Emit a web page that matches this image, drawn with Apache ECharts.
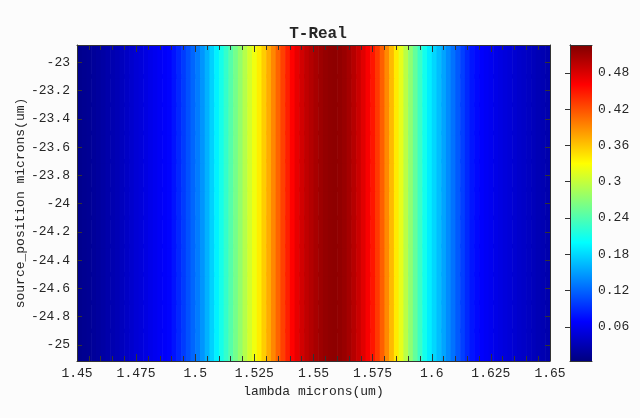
<!DOCTYPE html>
<html>
<head>
<meta charset="utf-8">
<script src="https://cdn.jsdelivr.net/npm/echarts@6/dist/echarts.min.js"></script>
<style>
html,body{margin:0;padding:0;background:#fcfcfc;}
#chart{width:640px;height:418px;}
</style>
</head>
<body>
<div id="chart"></div>
<script>
// ---- data ----
const lambdaCenters = [
  1.451,1.453,1.455,1.457,1.459,1.461,1.463,1.465,1.467,1.469,
  1.471,1.473,1.475,1.477,1.479,1.481,1.483,1.485,1.487,1.489,
  1.491,1.493,1.495,1.497,1.499,1.501,1.503,1.505,1.507,1.509,
  1.511,1.513,1.515,1.517,1.519,1.521,1.523,1.525,1.527,1.529,
  1.531,1.533,1.535,1.537,1.539,1.541,1.543,1.545,1.547,1.549,
  1.551,1.553,1.555,1.557,1.559,1.561,1.563,1.565,1.567,1.569,
  1.571,1.573,1.575,1.577,1.579,1.581,1.583,1.585,1.587,1.589,
  1.591,1.593,1.595,1.597,1.599,1.601,1.603,1.605,1.607,1.609,
  1.611,1.613,1.615,1.617,1.619,1.621,1.623,1.625,1.627,1.629,
  1.631,1.633,1.635,1.637,1.639,1.641,1.643,1.645,1.647,1.649
];
const sourcePositions = [-25.0,-24.8,-24.6,-24.4,-24.2,-24.0,-23.8,-23.6,-23.4,-23.2,-23.0];
const transmission = [
  0.010,0.012,0.014,0.017,0.019,0.022,0.025,0.028,0.031,0.035,
  0.039,0.043,0.047,0.050,0.054,0.058,0.061,0.064,0.067,0.070,
  0.078,0.088,0.099,0.110,0.121,0.132,0.145,0.160,0.176,0.193,
  0.210,0.226,0.243,0.259,0.275,0.292,0.308,0.323,0.339,0.356,
  0.373,0.392,0.410,0.428,0.445,0.460,0.473,0.484,0.493,0.500,
  0.506,0.511,0.515,0.518,0.519,0.517,0.513,0.507,0.498,0.488,
  0.476,0.464,0.450,0.432,0.412,0.390,0.366,0.341,0.317,0.294,
  0.272,0.250,0.229,0.208,0.191,0.179,0.166,0.153,0.140,0.127,
  0.114,0.101,0.089,0.079,0.073,0.068,0.064,0.061,0.057,0.054,
  0.051,0.048,0.045,0.042,0.040,0.037,0.034,0.031,0.029,0.026
];
const xTickValues = [1.45,1.475,1.5,1.525,1.55,1.575,1.6,1.625,1.65];
const xMinorTickValues = [
  1.45,1.455,1.46,1.465,1.47,1.475,1.48,1.485,1.49,1.495,
  1.5,1.505,1.51,1.515,1.52,1.525,1.53,1.535,1.54,1.545,
  1.55,1.555,1.56,1.565,1.57,1.575,1.58,1.585,1.59,1.595,
  1.6,1.605,1.61,1.615,1.62,1.625,1.63,1.635,1.64,1.645,1.65
];
const yTickValues = [-25,-24.8,-24.6,-24.4,-24.2,-24,-23.8,-23.6,-23.4,-23.2,-23];
const colorbarTickValues = [0.06,0.12,0.18,0.24,0.3,0.36,0.42,0.48];
const cMin = 0.0035, cMax = 0.526;
const xMin = 1.45, xMax = 1.65, yMin = -25.113, yMax = -22.878;

// ---- styles ----
const jet = ['#000080','#0000ff','#0080ff','#00ffff','#80ff80','#ffff00','#ff8000','#ff0000','#800000'];
const FONT = 'Liberation Mono';
const TXT = '#262626';
const LINE = '#333333';

const cells = [];
sourcePositions.forEach(y => {
  lambdaCenters.forEach((x, i) => cells.push([x, y, transmission[i]]));
});

const fmt = v => String(+(+v).toFixed(4));

const chart = echarts.init(document.getElementById('chart'));
const tickBase = {show: true, inside: true, lineStyle: {color: LINE, width: 1}};
const AZ = 10;
chart.setOption({
  backgroundColor: '#fcfcfc',
  animation: false,
  title: {
    text: 'T-Real', left: 313, top: 21, textAlign: 'center',
    textStyle: {fontFamily: FONT, fontSize: 16, fontWeight: 'bold', color: TXT}
  },
  grid: [
    {left: 77, right: 90, top: 45, bottom: 57},
    {left: 570, width: 22, top: 45, bottom: 57}
  ],
  xAxis: [
    {gridIndex: 0, type: 'value', position: 'bottom', min: xMin, max: xMax, z: AZ,
     axisLine: {show: true, lineStyle: {color: LINE}},
     axisTick: Object.assign({}, tickBase, {length: 7, customValues: xTickValues}),
     axisLabel: {customValues: xTickValues, formatter: fmt, margin: 6,
       fontFamily: FONT, fontSize: 13, color: TXT},
     splitLine: {show: false},
     name: 'lambda microns(um)', nameLocation: 'middle', nameGap: 24, nameMoveOverlap: false,
     nameTextStyle: {fontFamily: FONT, fontSize: 13, color: TXT}},
    {gridIndex: 0, type: 'value', position: 'bottom', min: xMin, max: xMax, z: AZ,
     axisLine: {show: false},
     axisTick: Object.assign({}, tickBase, {length: 5, customValues: xMinorTickValues}),
     axisLabel: {show: false}, splitLine: {show: false}},
    {gridIndex: 0, type: 'value', position: 'top', min: xMin, max: xMax, z: AZ,
     axisLine: {show: true, lineStyle: {color: LINE}},
     axisTick: Object.assign({}, tickBase, {length: 7, customValues: xTickValues}),
     axisLabel: {show: false}, splitLine: {show: false}},
    {gridIndex: 0, type: 'value', position: 'top', min: xMin, max: xMax, z: AZ,
     axisLine: {show: false},
     axisTick: Object.assign({}, tickBase, {length: 5, customValues: xMinorTickValues}),
     axisLabel: {show: false}, splitLine: {show: false}},
    {gridIndex: 1, type: 'value', position: 'bottom', min: 0, max: 1, z: AZ,
     axisLine: {show: true, lineStyle: {color: LINE}}, axisTick: {show: false},
     axisLabel: {show: false}, splitLine: {show: false}},
    {gridIndex: 1, type: 'value', position: 'top', min: 0, max: 1, z: AZ,
     axisLine: {show: true, lineStyle: {color: LINE}}, axisTick: {show: false},
     axisLabel: {show: false}, splitLine: {show: false}}
  ],
  yAxis: [
    {gridIndex: 0, type: 'value', position: 'left', min: yMin, max: yMax, z: AZ,
     axisLine: {show: true, lineStyle: {color: LINE}},
     axisTick: Object.assign({}, tickBase, {length: 5, customValues: yTickValues}),
     axisLabel: {customValues: yTickValues, formatter: fmt, margin: 7,
       fontFamily: FONT, fontSize: 13, color: TXT},
     splitLine: {show: false},
     name: 'source_position microns(um)', nameLocation: 'middle', nameGap: 50, nameMoveOverlap: false,
     nameTextStyle: {fontFamily: FONT, fontSize: 13, color: TXT}},
    {gridIndex: 0, type: 'value', position: 'right', min: yMin, max: yMax, z: AZ,
     axisLine: {show: true, lineStyle: {color: LINE}},
     axisTick: Object.assign({}, tickBase, {length: 5, customValues: yTickValues}),
     axisLabel: {show: false}, splitLine: {show: false}},
    {gridIndex: 1, type: 'value', position: 'left', min: cMin, max: cMax, z: AZ,
     axisLine: {show: true, lineStyle: {color: LINE}}, axisTick: {show: false},
     axisLabel: {show: false}, splitLine: {show: false}},
    {gridIndex: 1, type: 'value', position: 'right', min: cMin, max: cMax, z: AZ,
     axisLine: {show: true, lineStyle: {color: LINE}},
     axisTick: Object.assign({}, tickBase, {length: 5, customValues: colorbarTickValues}),
     axisLabel: {customValues: colorbarTickValues, formatter: fmt, margin: 6,
       fontFamily: FONT, fontSize: 13, color: TXT},
     splitLine: {show: false}}
  ],
  visualMap: {
    type: 'continuous', show: false, seriesIndex: 0, dimension: 2,
    min: cMin, max: cMax, inRange: {color: jet}
  },
  series: [
    {
      type: 'custom', xAxisIndex: 0, yAxisIndex: 0, data: cells, z: 1,
      renderItem(params, api) {
        const x = api.value(0), y = api.value(1);
        const p0 = api.coord([x - 0.001, y + 0.115]);
        const p1 = api.coord([x + 0.001, y - 0.115]);
        const cs = params.coordSys;
        const rect = echarts.graphic.clipRectByRect(
          {x: p0[0], y: p0[1], width: p1[0] - p0[0] + 0.6, height: p1[1] - p0[1]},
          {x: cs.x, y: cs.y, width: cs.width, height: cs.height});
        if (!rect) return null;
        return {type: 'rect', shape: rect, style: {fill: api.visual('color')}};
      }
    },
    {
      type: 'custom', xAxisIndex: 4, yAxisIndex: 3, data: [[0, 1, cMin, cMax]], z: 1,
      renderItem(params, api) {
        const p0 = api.coord([api.value(0), api.value(3)]);
        const p1 = api.coord([api.value(1), api.value(2)]);
        const stops = jet.map((c, i) => ({offset: i / (jet.length - 1), color: c}));
        return {type: 'rect',
          shape: {x: p0[0], y: p0[1], width: p1[0] - p0[0], height: p1[1] - p0[1]},
          style: {fill: new echarts.graphic.LinearGradient(0, 1, 0, 0, stops)}};
      }
    }
  ]
});
</script>
</body>
</html>
